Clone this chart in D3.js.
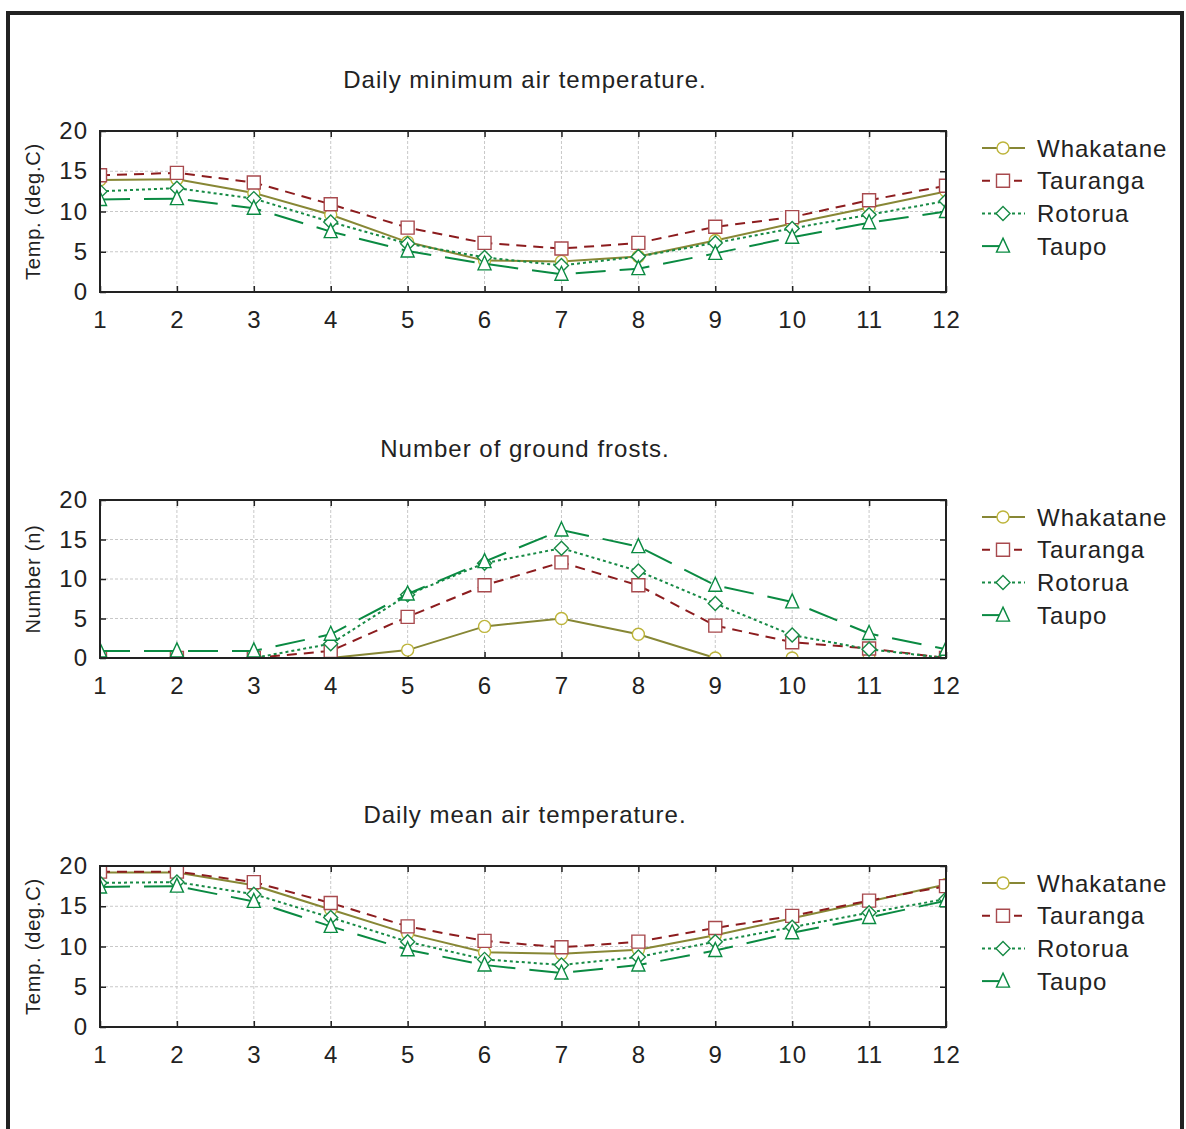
<!DOCTYPE html>
<html>
<head>
<meta charset="utf-8">
<script src="https://cdn.jsdelivr.net/npm/d3@7"></script>
<style>
  html, body { margin: 0; padding: 0; background: #fff; }
  svg { display: block; font-family: "Liberation Sans", Arial, sans-serif; }
</style>
</head>
<body>
<svg id="chart" width="1186" height="1129"></svg>
<script>
// Months 1..12
const months = [1, 2, 3, 4, 5, 6, 7, 8, 9, 10, 11, 12];
const stations = ["Whakatane", "Tauranga", "Rotorua", "Taupo"];
const yTicks = [0, 5, 10, 15, 20];

// Daily minimum air temperature (deg.C)
const minWhakatane = [13.9, 14.0, 12.3, 9.6, 6.2, 3.9, 3.8, 4.4, 6.4, 8.5, 10.5, 12.5];
const minTauranga  = [14.5, 14.8, 13.6, 10.9, 8.0, 6.1, 5.4, 6.1, 8.1, 9.3, 11.4, 13.2];
const minRotorua   = [12.5, 12.9, 11.6, 8.7, 6.0, 4.3, 3.3, 4.4, 6.1, 7.9, 9.6, 11.3];
const minTaupo     = [11.5, 11.6, 10.4, 7.5, 5.1, 3.5, 2.2, 2.9, 4.8, 6.8, 8.6, 10.0];

// Number of ground frosts
const frostWhakatane = [0, 0, 0, 0, 1, 4, 5, 3, 0, 0, 0, 0];
const frostTauranga  = [0, 0, 0, 0.9, 5.2, 9.2, 12.1, 9.2, 4.1, 2.0, 1.2, 0];
const frostRotorua   = [0, 0, 0, 1.8, 8.0, 12.0, 13.9, 11.0, 6.9, 2.9, 1.1, 0];
const frostTaupo     = [0.9, 0.9, 0.9, 3.0, 8.1, 12.2, 16.2, 14.1, 9.2, 7.1, 3.1, 1.1];

// Daily mean air temperature (deg.C)
const meanWhakatane = [19.2, 19.2, 17.6, 14.6, 11.6, 9.3, 9.1, 9.6, 11.4, 13.5, 15.6, 17.7];
const meanTauranga  = [19.3, 19.3, 18.0, 15.4, 12.5, 10.7, 9.9, 10.6, 12.3, 13.8, 15.7, 17.5];
const meanRotorua   = [17.9, 18.0, 16.5, 13.6, 10.6, 8.4, 7.7, 8.7, 10.6, 12.4, 14.2, 15.9];
const meanTaupo     = [17.4, 17.5, 15.6, 12.5, 9.6, 7.7, 6.7, 7.7, 9.5, 11.7, 13.6, 15.7];

const panels = [
  { title: "Daily minimum air temperature.", yLabel: "Temp. (deg.C)",
    series: [minWhakatane, minTauranga, minRotorua, minTaupo],
    top: 131, bottom: 292, titleY: 88 },
  { title: "Number of ground frosts.", yLabel: "Number (n)",
    series: [frostWhakatane, frostTauranga, frostRotorua, frostTaupo],
    top: 500, bottom: 658, titleY: 457 },
  { title: "Daily mean air temperature.", yLabel: "Temp. (deg.C)",
    series: [meanWhakatane, meanTauranga, meanRotorua, meanTaupo],
    top: 866, bottom: 1027, titleY: 823 }
];

// Line and marker style per station
const styles = [
  { line: "#878735", marker: "#bdb43a", dash: null, legendDash: null, shape: "circle" },
  { line: "#8c1c1e", marker: "#a84a4e", dash: "10,7", legendDash: "8,24", shape: "square" },
  { line: "#178a45", marker: "#178a45", dash: "3,3", legendDash: "3,3", shape: "diamond" },
  { line: "#0a8a42", marker: "#0a8a42", dash: "30,14", legendDash: "18,40", shape: "triangle" }
];

const svg = d3.select("#chart");
const textColor = "#222";
const fontSize = 24;
const spacing = 1;
const plotLeft = 100, plotRight = 946;

// Outer frame
svg.append("path")
  .attr("d", "M8,1140 L8,13 L1182,13 L1182,1140")
  .attr("fill", "none").attr("stroke", "#222").attr("stroke-width", 4);

function markerPath(shape) {
  switch (shape) {
    case "square": return "M-6.5,-6.5 h13 v13 h-13 Z";
    case "diamond": return "M0,-7 L7,0 L0,7 L-7,0 Z";
    case "triangle": return "M0,-8 L6.5,6 L-6.5,6 Z";
    default: return null;
  }
}

function drawMarker(g, shape, x, y, st) {
  if (shape === "circle") {
    g.append("circle").attr("cx", x).attr("cy", y).attr("r", 6)
      .attr("fill", "#fff").attr("stroke", st.marker).attr("stroke-width", 1.4);
  } else {
    g.append("path").attr("d", markerPath(shape))
      .attr("transform", `translate(${x},${y})`)
      .attr("fill", "#fff").attr("stroke", st.marker).attr("stroke-width", 1.4);
  }
}

const x = d3.scaleLinear().domain([1, 12]).range([plotLeft, plotRight]);

panels.forEach((p, pi) => {
  const y = d3.scaleLinear().domain([0, 20]).range([p.bottom, p.top]);
  const g = svg.append("g");
  const clipId = "clip" + pi;
  svg.append("clipPath").attr("id", clipId)
    .append("rect").attr("x", plotLeft).attr("y", p.top)
    .attr("width", plotRight - plotLeft).attr("height", p.bottom - p.top);

  // Title
  g.append("text").attr("x", 525).attr("y", p.titleY)
    .attr("text-anchor", "middle").attr("font-size", fontSize)
    .attr("letter-spacing", spacing).attr("fill", textColor)
    .text(p.title);

  // Grid
  const grid = g.append("g");
  grid.selectAll("line.v").data(months.slice(1, -1)).join("line")
    .attr("x1", d => x(d)).attr("x2", d => x(d))
    .attr("y1", p.top).attr("y2", p.bottom)
    .attr("stroke", "#c8c8c8").attr("stroke-width", 1).attr("stroke-dasharray", "3,2");
  grid.selectAll("line.h").data(yTicks.slice(1, -1)).join("line")
    .attr("x1", plotLeft).attr("x2", plotRight)
    .attr("y1", d => y(d)).attr("y2", d => y(d))
    .attr("stroke", "#c8c8c8").attr("stroke-width", 1).attr("stroke-dasharray", "3,2");

  // Axes with inward ticks
  const axisStyle = sel => {
    sel.select(".domain").remove();
    sel.selectAll(".tick line").attr("stroke", "#222").attr("stroke-width", 1.5);
    sel.selectAll(".tick text").attr("font-size", fontSize).attr("fill", textColor)
      .attr("letter-spacing", spacing)
      .attr("font-family", "Liberation Sans, Arial, sans-serif");
  };
  g.append("g").attr("transform", `translate(0,${p.bottom})`)
    .call(d3.axisBottom(x).tickValues(months).tickSizeInner(-6).tickSizeOuter(0).tickPadding(19).tickFormat(d3.format("d")))
    .call(axisStyle);
  g.append("g").attr("transform", `translate(0,${p.top})`)
    .call(d3.axisTop(x).tickValues(months).tickSizeInner(-6).tickSizeOuter(0).tickFormat(""))
    .call(axisStyle);
  g.append("g").attr("transform", `translate(${plotLeft},0)`)
    .call(d3.axisLeft(y).tickValues(yTicks).tickSizeInner(-6).tickSizeOuter(0).tickPadding(12).tickFormat(d3.format("d")))
    .call(axisStyle);
  g.append("g").attr("transform", `translate(${plotRight},0)`)
    .call(d3.axisRight(y).tickValues(yTicks).tickSizeInner(-6).tickSizeOuter(0).tickFormat(""))
    .call(axisStyle);

  // Y axis label
  g.append("text")
    .attr("transform", `translate(40,${(p.top + p.bottom) / 2}) rotate(-90)`)
    .attr("text-anchor", "middle").attr("font-size", 20)
    .attr("letter-spacing", 0.8).attr("fill", textColor)
    .text(p.yLabel);

  // Series lines and markers, clipped to the plot area
  const data = g.append("g").attr("clip-path", `url(#${clipId})`);
  const line = d3.line().x((d, i) => x(months[i])).y(d => y(d));
  p.series.forEach((vals, si) => {
    const st = styles[si];
    data.append("path").datum(vals).attr("d", line)
      .attr("fill", "none").attr("stroke", st.line).attr("stroke-width", 2)
      .attr("stroke-dasharray", st.dash);
    vals.forEach((v, i) => drawMarker(data, st.shape, x(months[i]), y(v), st));
  });

  // Frame of the plot area
  g.append("rect").attr("x", plotLeft).attr("y", p.top)
    .attr("width", plotRight - plotLeft).attr("height", p.bottom - p.top)
    .attr("fill", "none").attr("stroke", "#222").attr("stroke-width", 2);

  // Legend
  const lg = g.append("g");
  stations.forEach((name, si) => {
    const st = styles[si];
    const ly = p.top + 17 + si * 32.7;
    lg.append("line").attr("x1", 982).attr("x2", 1025).attr("y1", ly).attr("y2", ly)
      .attr("stroke", st.line).attr("stroke-width", 2).attr("stroke-dasharray", st.legendDash);
    drawMarker(lg, st.shape, 1003, ly, st);
    lg.append("text").attr("x", 1037).attr("y", ly + 8.5)
      .attr("font-size", fontSize).attr("letter-spacing", spacing)
      .attr("fill", textColor).text(name);
  });
});
</script>
</body>
</html>
